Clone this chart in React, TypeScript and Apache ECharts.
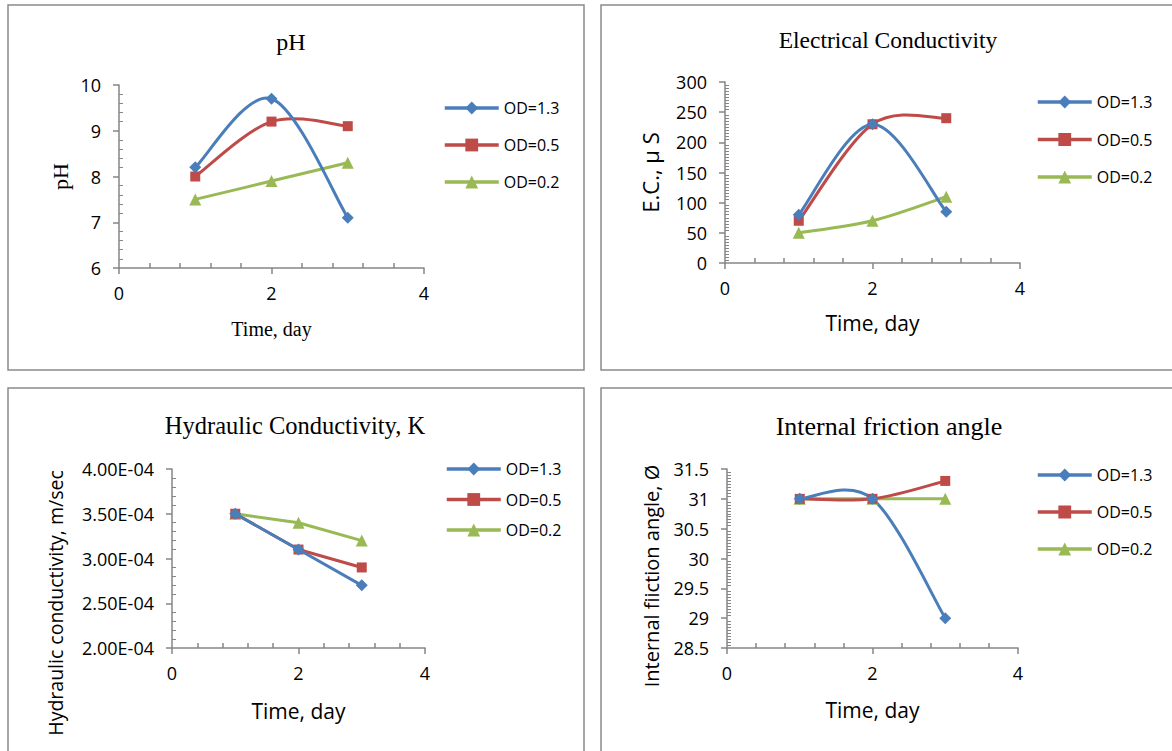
import React, { useEffect, useRef } from "react";
import * as echarts from "echarts";

// ---------- data ----------
const days = [1, 2, 3];
const seriesNames = ["OD=1.3", "OD=0.5", "OD=0.2"];

const phOD13 = [8.2, 9.7, 7.1];
const phOD05 = [8.0, 9.2, 9.1];
const phOD02 = [7.5, 7.9, 8.3];

const ecOD13 = [80, 230, 85];
const ecOD05 = [70, 230, 240];
const ecOD02 = [50, 70, 110];

const kOD13 = [3.5e-4, 3.1e-4, 2.7e-4];
const kOD05 = [3.5e-4, 3.1e-4, 2.9e-4];
const kOD02 = [3.5e-4, 3.4e-4, 3.2e-4];

const phiOD13 = [31, 31, 29];
const phiOD05 = [31, 31, 31.3];
const phiOD02 = [31, 31, 31];

const chartTitles = ["pH", "Electrical Conductivity", "Hydraulic Conductivity, K", "Internal friction angle"];
const yNames = ["pH", "E.C., \u03bc S", "Hydraulic conductivity, m/sec", "Internal fiiction angle, \u00d8"];
const xName = "Time, day";

// ---------- styles ----------
const SANS = "'Open Sans', 'Noto Sans', sans-serif";
const SERIF = "'Liberation Serif', 'DejaVu Serif', 'Times New Roman', serif";
const colors = ["#4A7EBB", "#BE4B48", "#98B954"];
const symbols = ["diamond", "rect", "triangle"];
const symbolSizes = [12, 10, 12];
const AXIS_COLOR = "#868686";

function sciLabel(v: number) {
  const [m, e] = v.toExponential(2).split("e");
  const n = parseInt(e, 10);
  return m + "E" + (n < 0 ? "-" : "+") + String(Math.abs(n)).padStart(2, "0");
}

export default function App() {
  const ref = useRef<HTMLDivElement>(null);

  useEffect(() => {
    if (!ref.current) return;
    const chart = echarts.init(ref.current, undefined, { renderer: "svg" });

    const grids = [
      { left: 119, top: 85, width: 305, height: 183 },
      { left: 725, top: 82, width: 295, height: 181 },
      { left: 172, top: 469, width: 253, height: 179 },
      { left: 727, top: 469, width: 291, height: 179 },
    ];

    // y-axis names: the first two are axis names, the last two are placed (offset downward, as in the original)
    const yCfg = [
      { min: 6, max: 10, interval: 1, minorSplit: 5, fmt: (v: number) => String(v), nameGap: 48, nameFont: SERIF, nameSize: 22, useAxisName: true },
      { min: 0, max: 300, interval: 50, minorSplit: 10, fmt: (v: number) => String(v), nameGap: 64, nameFont: SANS, nameSize: 22, useAxisName: true },
      { min: 2e-4, max: 4e-4, interval: 5e-5, minorSplit: 5, fmt: sciLabel, nameGap: 106, nameFont: SANS, nameSize: 19.5, useAxisName: false },
      { min: 28.5, max: 31.5, interval: 0.5, minorSplit: 10, fmt: (v: number) => String(v), nameGap: 66, nameFont: SANS, nameSize: 20, useAxisName: false },
    ];
    const yNamePos = [
      null,
      null,
      { x: 55, y: 603 },
      { x: 651, y: 576 },
    ];

    const xNameCfg = [
      { font: SERIF, size: 20, gap: 51 },
      { font: SANS, size: 21, gap: 49 },
      { font: SANS, size: 21, gap: 52 },
      { font: SANS, size: 21, gap: 51 },
    ];

    const xAxis = grids.map((_, i) => ({
      type: "value",
      gridIndex: i,
      min: 0,
      max: 4,
      interval: 2,
      name: xName,
      nameLocation: "middle",
      nameGap: xNameCfg[i].gap,
      nameTextStyle: { fontFamily: xNameCfg[i].font, fontSize: xNameCfg[i].size, color: "#000" },
      axisLine: { show: true, lineStyle: { color: AXIS_COLOR, width: 1.5 } },
      axisTick: { show: true, length: 6, lineStyle: { color: AXIS_COLOR, width: 1.5 } },
      minorTick: { show: true, splitNumber: 5, length: -5, lineStyle: { color: AXIS_COLOR, width: 1.5 } },
      axisLabel: { fontFamily: SANS, fontSize: 18, color: "#000", margin: 16 },
      splitLine: { show: false },
    }));

    const yAxis = grids.map((_, i) => ({
      type: "value",
      gridIndex: i,
      min: yCfg[i].min,
      max: yCfg[i].max,
      interval: yCfg[i].interval,
      name: yCfg[i].useAxisName ? yNames[i] : "",
      nameLocation: "middle",
      nameGap: yCfg[i].nameGap,
      nameTextStyle: { fontFamily: yCfg[i].nameFont, fontSize: yCfg[i].nameSize, color: "#000" },
      axisLine: { show: true, lineStyle: { color: AXIS_COLOR, width: 1.5 } },
      axisTick: { show: true, length: 6, lineStyle: { color: AXIS_COLOR, width: 1.5 } },
      minorTick: { show: true, splitNumber: yCfg[i].minorSplit, length: -4, lineStyle: { color: AXIS_COLOR, width: 1 } },
      axisLabel: { fontFamily: SANS, fontSize: 18, color: "#000", margin: 18, formatter: yCfg[i].fmt },
      splitLine: { show: false },
    }));

    const chartData = [
      [phOD13, phOD05, phOD02],
      [ecOD13, ecOD05, ecOD02],
      [kOD13, kOD05, kOD02],
      [phiOD13, phiOD05, phiOD02],
    ];
    const smoothFlags = [true, true, false, true];

    const series: any[] = [];
    chartData.forEach((group, gi) => {
      group.forEach((vals, si) => {
        const smooth = smoothFlags[gi];
        // markers (and straight line when not smoothed)
        series.push({
          type: "line",
          name: seriesNames[si],
          xAxisIndex: gi,
          yAxisIndex: gi,
          smooth: false,
          data: days.map((d, k) => [d, vals[k]]),
          symbol: symbols[si],
          symbolSize: symbolSizes[si],
          showSymbol: true,
          color: colors[si],
          itemStyle: { color: colors[si] },
          lineStyle: { color: colors[si], width: 3, opacity: smooth ? 0 : 1 },
          z: 5 - si,
        });
        if (smooth) {
          // Excel-style smoothed curve (Catmull-Rom through the data points, via the axes' scales)
          series.push({
            type: "custom",
            xAxisIndex: gi,
            yAxisIndex: gi,
            silent: true,
            z: 3 - si,
            data: days.map((d, k) => [d, vals[k]]),
            renderItem: (params: any, api: any) => {
              const k = params.dataIndex;
              const n = days.length;
              if (k >= n - 1) return { type: "group", children: [] };
              const cl = (j: number) => Math.max(0, Math.min(n - 1, j));
              const P = (j: number) => api.coord([days[cl(j)], vals[cl(j)]]);
              const p0 = P(k - 1), p1 = P(k), p2 = P(k + 1), p3 = P(k + 2);
              const t = 1 / 6;
              return {
                type: "bezierCurve",
                shape: {
                  x1: p1[0], y1: p1[1],
                  x2: p2[0], y2: p2[1],
                  cpx1: p1[0] + (p2[0] - p0[0]) * t,
                  cpy1: p1[1] + (p2[1] - p0[1]) * t,
                  cpx2: p2[0] - (p3[0] - p1[0]) * t,
                  cpy2: p2[1] - (p3[1] - p1[1]) * t,
                },
                style: { stroke: colors[si], lineWidth: 3, fill: "none", lineCap: "round" },
              };
            },
          });
        }
      });
    });

    const legendPos = [
      { left: 443, top: 100, gap: 21 },
      { left: 1036, top: 94, gap: 21.5 },
      { left: 445, top: 461, gap: 14.5 },
      { left: 1036, top: 467, gap: 21 },
    ];
    const legend = legendPos.map((p) => ({
      orient: "vertical",
      left: p.left,
      top: p.top,
      padding: 0,
      itemWidth: 54,
      itemHeight: 16,
      itemGap: p.gap,
      lineStyle: { width: 3.5, opacity: 1 },
      textStyle: { fontFamily: SANS, fontSize: 16, color: "#000" },
      data: seriesNames,
      selectedMode: false,
    }));

    const boxes = [
      { x: 8, y: 5, w: 576, h: 365 },
      { x: 601, y: 5, w: 590, h: 365 },
      { x: 8, y: 388, w: 576, h: 380 },
      { x: 601, y: 388, w: 590, h: 380 },
    ];
    const titlePos = [
      { x: 291, y: 42, size: 24 },
      { x: 888, y: 40, size: 23.5 },
      { x: 295, y: 425, size: 24.5 },
      { x: 889, y: 426, size: 26 },
    ];

    const graphic: any[] = [];
    boxes.forEach((b) => {
      graphic.push({
        type: "rect",
        shape: { x: b.x, y: b.y, width: b.w, height: b.h },
        style: { fill: "none", stroke: "#8a8a8a", lineWidth: 1.5 },
        silent: true,
        z: -1,
      });
    });
    titlePos.forEach((t, i) => {
      graphic.push({
        type: "text",
        x: t.x,
        y: t.y,
        style: {
          text: chartTitles[i],
          fontFamily: SERIF,
          fontSize: t.size,
          fill: "#000",
          textAlign: "center",
          textVerticalAlign: "middle",
        },
      });
    });
    yNamePos.forEach((p, i) => {
      if (!p) return;
      graphic.push({
        type: "text",
        x: p.x,
        y: p.y,
        rotation: Math.PI / 2,
        style: {
          text: yNames[i],
          fontFamily: yCfg[i].nameFont,
          fontSize: yCfg[i].nameSize,
          fill: "#000",
          textAlign: "center",
          textVerticalAlign: "middle",
        },
      });
    });

    chart.setOption({
      animation: false,
      backgroundColor: "#fff",
      grid: grids.map((g) => ({ ...g, containLabel: false })),
      xAxis,
      yAxis,
      legend,
      series,
      graphic,
    });

    return () => chart.dispose();
  }, []);

  return (
    <div
      ref={ref}
      style={{ position: "fixed", left: 0, top: 0, width: 1172, height: 751, background: "#fff" }}
    />
  );
}
